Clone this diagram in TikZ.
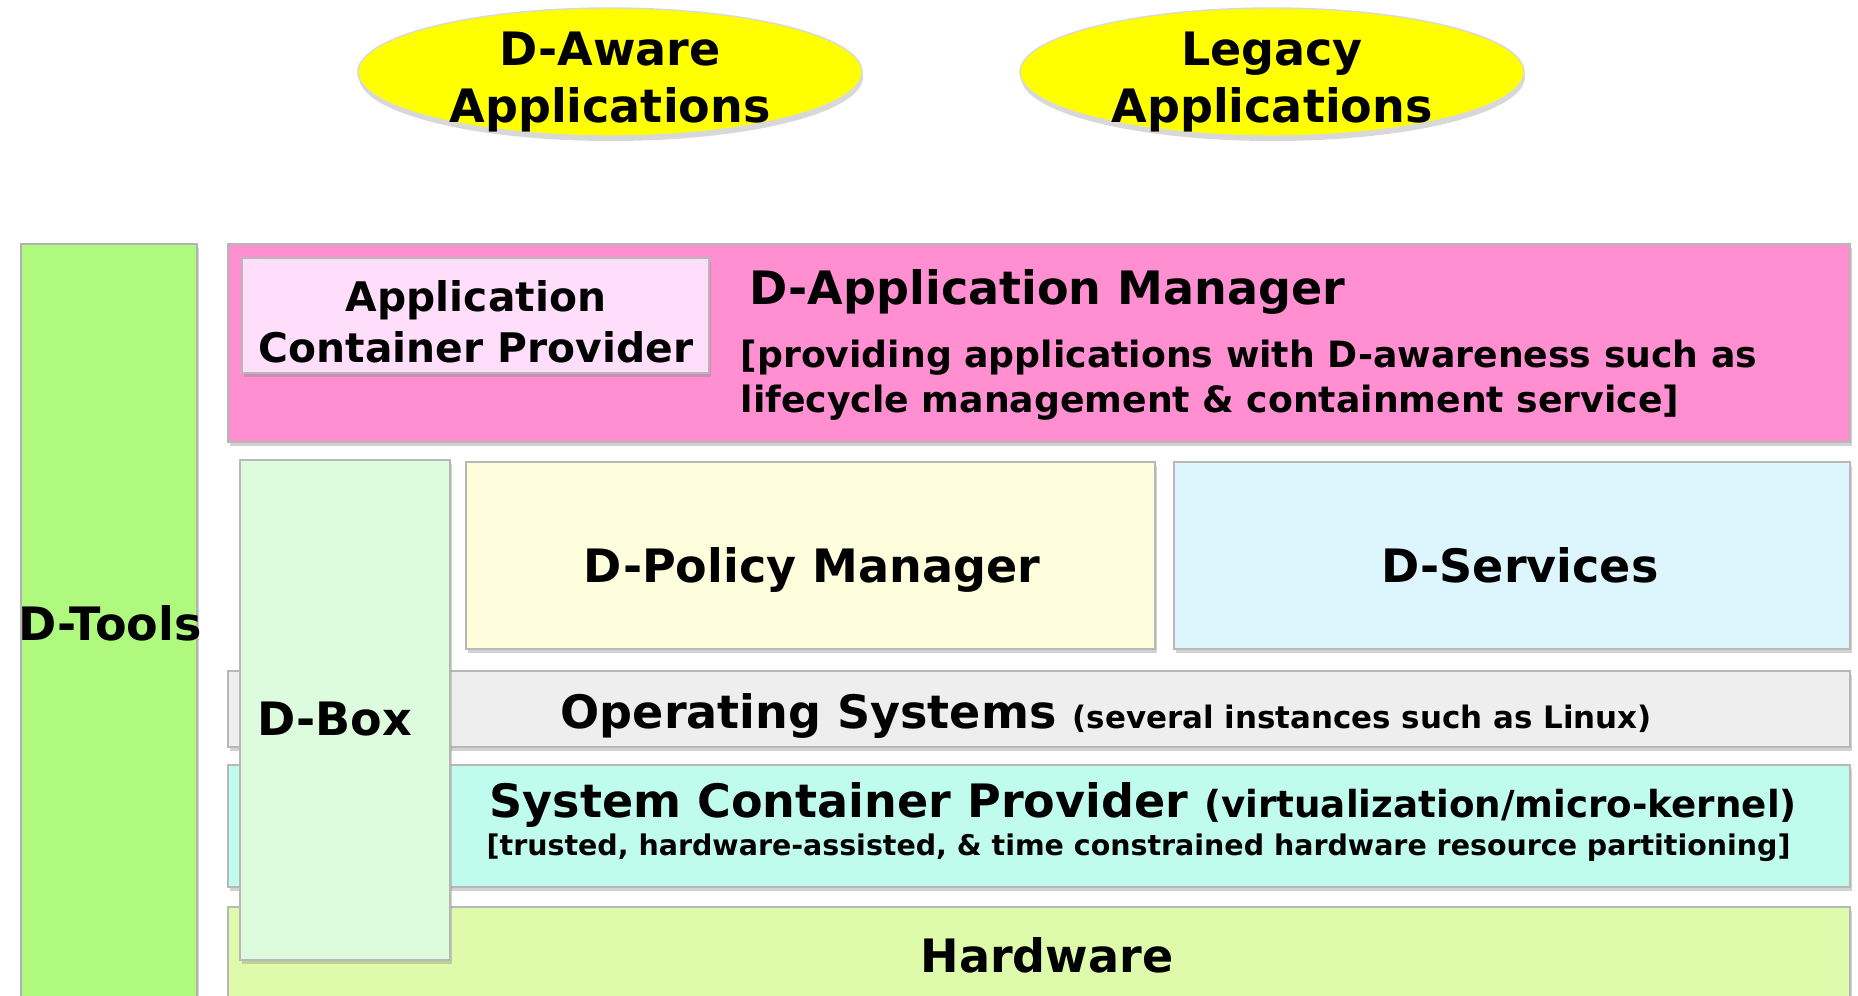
\documentclass[tikz,border=0pt]{standalone}
\usepackage{fontspec}
\setmainfont{DejaVu Sans}
\usetikzlibrary{shadows,shapes.geometric}

\definecolor{toolsgreen}{HTML}{AFF97E}
\definecolor{mgrpink}{HTML}{FF8FD1}
\definecolor{acppink}{HTML}{FFDEFB}
\definecolor{boxgreen}{HTML}{DDFCDD}
\definecolor{policyyellow}{HTML}{FEFEDC}
\definecolor{servicecyan}{HTML}{DDF6FD}
\definecolor{osgray}{HTML}{EEEEEE}
\definecolor{scpmint}{HTML}{BFFCEE}
\definecolor{hwgreen}{HTML}{DEFBAB}
\definecolor{appyellow}{HTML}{FFFF00}

\tikzset{
  layer/.style={draw=black!28, line width=0.4pt,
    drop shadow={opacity=0.35, shadow xshift=0.02, shadow yshift=-0.04}},
  appellipse/.style={ellipse, fill=appyellow, draw=black!15,
    minimum width=5.04cm, minimum height=1.28cm,
    drop shadow={opacity=0.3, shadow xshift=0.01, shadow yshift=-0.05}},
  bigtxt/.style={font=\fontsize{13.1}{16.2}\selectfont\bfseries, inner sep=0pt},
  subtxt/.style={font=\fontsize{10.3}{12.8}\selectfont\bfseries, inner sep=0pt},
  acptxt/.style={font=\fontsize{11.6}{14.5}\selectfont\bfseries, inner sep=0pt},
}

\begin{document}
\begin{tikzpicture}
  \clip (0,0) rectangle (18.58,9.95);
  \fill[white] (0,0) rectangle (18.58,9.95);

  %%% applications on top
  \node[appellipse] (daware) at (6.10,9.23) {};
  \node[appellipse] (legacy) at (12.72,9.23) {};
  \node[bigtxt, align=center] (dawaretxt) at (6.10,9.13) {D-Aware\\Applications};
  \node[bigtxt, align=center] (legacytxt) at (12.72,9.13) {Legacy\\Applications};

  %%% tools column
  \draw[layer, fill=toolsgreen, draw=black!30] (0.21,-0.3) rectangle (1.97,7.51);

  %%% application manager
  \draw[layer, fill=mgrpink] (2.28,5.53) rectangle (18.50,7.51);
  \draw[layer, fill=acppink] (2.42,6.22) rectangle (7.09,7.37);
  \node[acptxt, align=center] (acp) at (4.76,6.73) {Application\\Container Provider};
  \node[bigtxt, anchor=base west] (dam) at (7.49,6.90) {D-Application Manager};
  \node[subtxt, align=left, anchor=west] (damsub) at (7.40,6.15)
    {[providing applications with D-awareness such as\\lifecycle management \& containment service]};

  %%% policy and services
  \draw[layer, fill=policyyellow] (4.66,3.46) rectangle (11.55,5.33);
  \draw[layer, fill=servicecyan] (11.74,3.46) rectangle (18.50,5.33);
  \node[bigtxt, anchor=base] (policy) at (8.12,4.13) {D-Policy Manager};
  \node[bigtxt, anchor=base] (services) at (15.20,4.13) {D-Services};

  %%% lower layers
  \draw[layer, fill=osgray] (2.28,2.48) rectangle (18.50,3.24);
  \draw[layer, fill=scpmint] (2.28,1.08) rectangle (18.50,2.30);
  \draw[layer, fill=hwgreen] (2.28,-0.3) rectangle (18.50,0.88);

  \node[bigtxt, anchor=base west] (os) at (5.60,2.67)
    {Operating Systems {\fontsize{8.8}{10}\selectfont(several instances such as Linux)}};
  \node[bigtxt, anchor=base west] (scp) at (4.89,1.78)
    {System Container Provider {\fontsize{10.6}{12}\selectfont(virtualization/micro-kernel)}};
  \node[bigtxt, anchor=base west, font=\fontsize{8.1}{10}\selectfont\bfseries] (scpsub) at (4.86,1.40)
    {[trusted, hardware-assisted, \& time constrained hardware resource partitioning]};
  \node[bigtxt, anchor=base] (hw) at (10.47,0.23) {Hardware};

  %%% D-Box over the lower layers
  \draw[layer, fill=boxgreen] (2.40,0.35) rectangle (4.50,5.35);
  \node[bigtxt, anchor=base west] (dbox) at (2.57,2.60) {D-Box};

  \node[bigtxt, anchor=base] (dtools) at (1.10,3.55) {D-Tools};
\end{tikzpicture}
\end{document}
